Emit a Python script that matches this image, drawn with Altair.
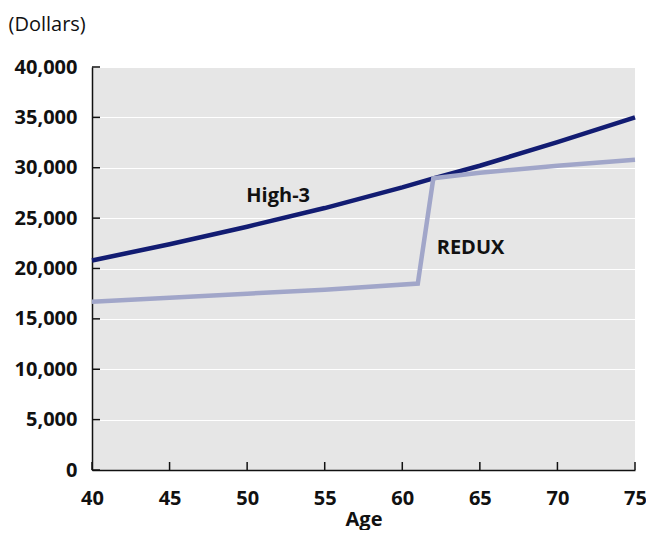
import altair as alt
import pandas as pd

ages_high3 = [40, 45, 50, 55, 60, 62, 65, 70, 75]
high3 = [20800, 22400, 24150, 26000, 28050, 28950, 30200, 32550, 35000]
ages_redux = [40, 45, 50, 55, 61, 62, 65, 70, 75]
redux = [16700, 17100, 17500, 17900, 18500, 28950, 29500, 30200, 30800]

x_ticks = [40, 45, 50, 55, 60, 65, 70, 75]
y_ticks = [0, 5000, 10000, 15000, 20000, 25000, 30000, 35000, 40000]

label_text = ["High-3", "REDUX"]
label_age = [52.0, 64.4]
label_dollars = [27200, 22000]

FONT = "Open Sans"

lines = pd.DataFrame(
    {"series": ["High-3"] * len(high3) + ["REDUX"] * len(redux),
     "age": ages_high3 + ages_redux,
     "dollars": high3 + redux}
)
xt = pd.DataFrame({"age": x_ticks})
yt = pd.DataFrame({"dollars": y_ticks})
lab = pd.DataFrame({"label": label_text, "age": label_age, "dollars": label_dollars})

xscale = alt.Scale(domain=[40, 75], nice=False, zero=False)
yscale = alt.Scale(domain=[0, 40000], nice=False)

x_axis = alt.Axis(values=x_ticks, format="d", grid=False, ticks=False, tickSize=0,
                  domainColor="#111111", domainWidth=1.5,
                  labelFont=FONT, labelFontWeight="bold", labelFontSize=20,
                  labelColor="#111111", labelPadding=18, labelFlush=False,
                  title="Age", titleFont=FONT, titleFontWeight="bold",
                  titleFontSize=20, titleColor="#111111",
                  titleBaseline="alphabetic", titleY=55)
y_axis = alt.Axis(values=y_ticks, format=",.0f", grid=True, gridColor="white",
                  gridWidth=1.2, ticks=False, tickSize=0,
                  domainColor="#111111", domainWidth=1.5,
                  labelFont=FONT, labelFontWeight="bold", labelFontSize=20,
                  labelColor="#111111", labelPadding=15, labelFlush=False,
                  title="(Dollars)", titleFont=FONT, titleFontWeight="normal",
                  titleFontSize=20, titleColor="#111111", titleAngle=0,
                  titleAlign="left", titleBaseline="alphabetic",
                  titleX=-84, titleY=-37)

X = alt.X("age:Q", scale=xscale, axis=x_axis)
Y = alt.Y("dollars:Q", scale=yscale, axis=y_axis)

line_layer = alt.Chart(lines).mark_line(strokeWidth=4.5).encode(
    x=X, y=Y,
    color=alt.Color("series:N",
                    scale=alt.Scale(domain=["High-3", "REDUX"],
                                    range=["#121c72", "#a1a6c9"]),
                    legend=None),
    order=alt.Order("age:Q"),
)

ytick_layer = alt.Chart(yt).mark_rule(color="#111111", strokeWidth=1.5).encode(
    y=Y, x=alt.value(0), x2=alt.value(8)
)
xtick_layer = alt.Chart(xt).mark_rule(color="#111111", strokeWidth=1.5).encode(
    x=X, y=alt.value(403), y2=alt.value(395)
)
text_layer = alt.Chart(lab).mark_text(
    font=FONT, fontWeight="bold", fontSize=20, color="#111111"
).encode(x=X, y=Y, text="label:N")

chart = alt.layer(line_layer, ytick_layer, xtick_layer, text_layer).properties(
    width=543, height=403,
    autosize=alt.AutoSizeParams(type="none"),
    padding={"left": 84, "top": 59, "right": 11, "bottom": 60},
).configure_view(fill="#e6e6e6", stroke=None)

chart.save("out.html", embed_options={"renderer": "svg", "actions": False})
